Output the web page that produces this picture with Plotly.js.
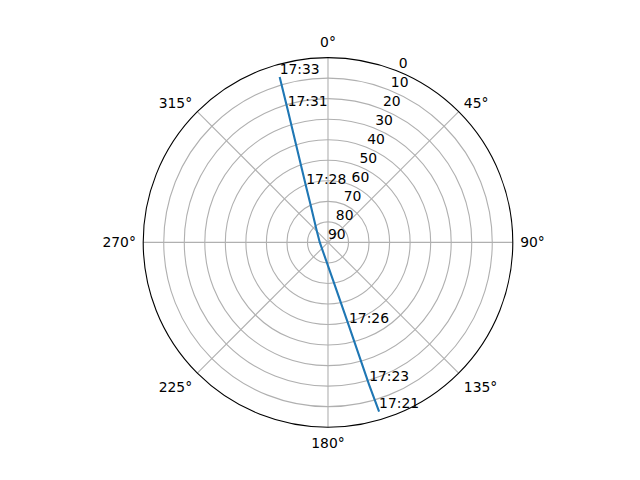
<!DOCTYPE html>
<html>
<head>
<meta charset="utf-8">
<script src="https://cdn.plot.ly/plotly-3.0.1.min.js"></script>
<style>
  html, body { margin: 0; padding: 0; background: #fff; }
  #chart { width: 640px; height: 480px; }
</style>
</head>
<body>
<div id="chart"></div>
<script>
// satellite track: azimuth (deg, clockwise from N) and elevation (deg)
const trackAz = [163.2, 163.9, 165.9, 172.4, 186.4, 270.0, 317.2, 335.5, 338.5, 340.3, 343.1, 343.7];
const trackEl = [3.9, 17.75, 48.0, 71.5, 81.3, 86.0, 81.8, 69.1, 61.1, 52.6, 22.4, 6.1];

// time labels
const labelTimes = ['17:21', '17:23', '17:26', '17:28', '17:31', '17:33'];
const labelAz = [163.2, 163.9, 165.9, 338.5, 343.1, 343.7];
const labelEl = [3.9, 17.75, 48.0, 61.1, 22.4, 6.1];

// axes
const azTicks = [0, 45, 90, 135, 180, 225, 270, 315];
const azTickText = ['0°', '45°', '90°', '135°', '180°', '225°', '270°', '315°'];
const elTicks = [0, 10, 20, 30, 40, 50, 60, 70, 80, 90];
const elTickText = ['0', '10', '20', '30', '40', '50', '60', '70', '80', '90'];

// radial tick labels sit along this azimuth (matplotlib default)
const rLabelAz = 22.5;

const font = { family: 'DejaVu Sans, sans-serif', size: 13.9, color: '#000' };

const traces = [
  {
    type: 'scatterpolar',
    mode: 'lines',
    theta: trackAz,
    r: trackEl,
    line: { color: '#1f77b4', width: 2.1 },
    hoverinfo: 'skip'
  },
  {
    type: 'scatterpolar',
    mode: 'text',
    theta: labelAz,
    r: labelEl,
    text: labelTimes,
    textposition: 'top right',
    textfont: font,
    hoverinfo: 'skip'
  },
  {
    // radial tick labels
    type: 'scatterpolar',
    mode: 'text',
    theta: elTicks.map(() => rLabelAz),
    r: elTicks,
    text: elTickText,
    textposition: 'top right',
    textfont: font,
    cliponaxis: false,
    hoverinfo: 'skip'
  }
];

const layout = {
  width: 640,
  height: 480,
  margin: { l: 0, r: 0, t: 0, b: 0 },
  paper_bgcolor: '#fff',
  showlegend: false,
  font: font,
  polar: {
    domain: { x: [0.22375, 0.80125], y: [0.11, 0.88] },
    bgcolor: '#fff',
    angularaxis: {
      rotation: 90,
      direction: 'clockwise',
      tickmode: 'array',
      tickvals: azTicks,
      ticktext: azTickText,
      ticks: 'outside',
      ticklen: 4,
      tickcolor: 'rgba(0,0,0,0)',
      tickfont: font,
      showline: true,
      linecolor: '#000',
      linewidth: 1.1,
      showgrid: true,
      gridcolor: '#b0b0b0',
      gridwidth: 1.1
    },
    radialaxis: {
      range: [90, 0],
      tickmode: 'array',
      tickvals: elTicks,
      ticks: '',
      showticklabels: false,
      showline: false,
      angle: 67.5,
      showgrid: true,
      gridcolor: '#b0b0b0',
      gridwidth: 1.1
    }
  }
};

Plotly.newPlot('chart', traces, layout, { staticPlot: true });
</script>
</body>
</html>
